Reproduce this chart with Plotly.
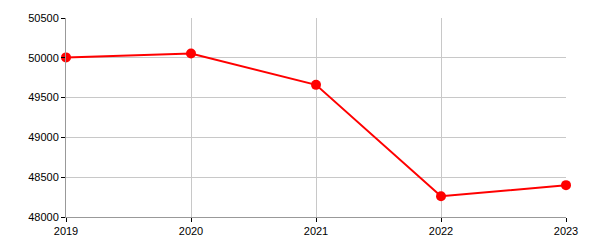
import plotly.graph_objects as go

years = ["2019", "2020", "2021", "2022", "2023"]
values = [50005, 50055, 49660, 48260, 48400]
y_ticks = [48000, 48500, 49000, 49500, 50000, 50500]

fig = go.Figure()
fig.add_trace(go.Scatter(
    x=list(range(len(years))), y=values, mode="lines+markers",
    line=dict(color="#ff0000", width=2),
    marker=dict(color="#ff0000", size=10),
    cliponaxis=False,
    showlegend=False,
))
fig.update_layout(
    width=600, height=250,
    margin=dict(l=66, r=34, t=15, b=33),
    paper_bgcolor="white", plot_bgcolor="white",
    font=dict(family="Arial, Liberation Sans", size=11, color="black"),
)
fig.update_xaxes(
    range=[0, len(years) - 1], tickvals=list(range(len(years))), ticktext=years,
    showgrid=True, gridcolor="#c8c8c8", gridwidth=1,
    showline=True, linecolor="#999999", linewidth=1,
    ticks="outside", ticklen=4, tickcolor="black", zeroline=False,
)
fig.update_yaxes(
    range=[48000, 50500], tickvals=y_ticks, ticktext=[str(v) for v in y_ticks],
    showgrid=True, gridcolor="#c8c8c8", gridwidth=1,
    showline=True, linecolor="#999999", linewidth=1,
    ticks="outside", ticklen=4, tickcolor="black", zeroline=False,
)
fig.write_html("out.html")
